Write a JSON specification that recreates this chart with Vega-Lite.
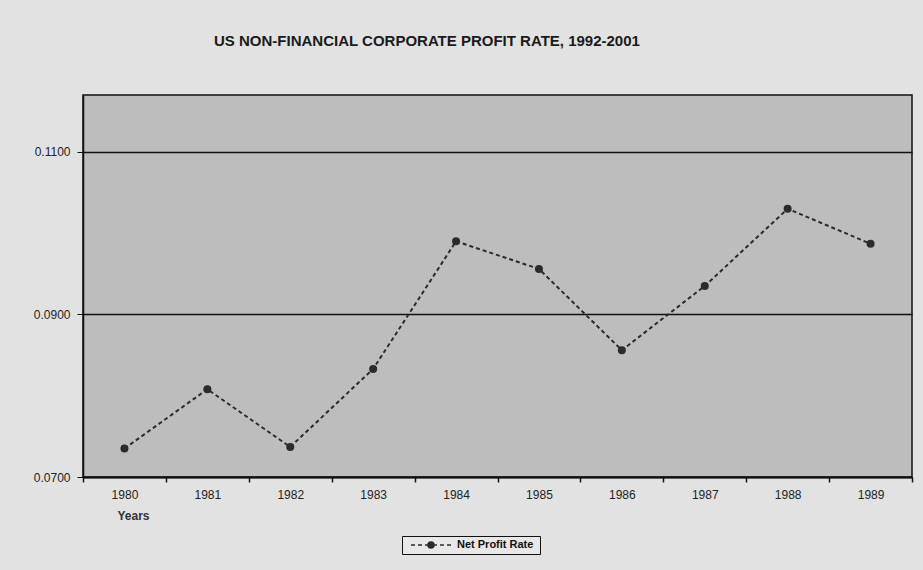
{
  "$schema": "https://vega.github.io/schema/vega-lite/v6.json",
  "width": 829,
  "height": 382,
  "autosize": {"type": "none"},
  "padding": {"left": 83, "top": 95, "right": 11, "bottom": 93},
  "background": "#e2e2e2",
  "title": {
    "text": "US NON-FINANCIAL CORPORATE PROFIT RATE, 1992-2001",
    "anchor": "start",
    "frame": "group",
    "dx": 131,
    "offset": 31,
    "baseline": "bottom",
    "font": "Liberation Sans",
    "fontSize": 15,
    "fontWeight": "bold",
    "color": "#1a1a1a"
  },
  "data": {
    "values": [
      {"year": "1980", "rate": 0.0735, "series": "Net Profit  Rate"},
      {"year": "1981", "rate": 0.0808, "series": "Net Profit  Rate"},
      {"year": "1982", "rate": 0.0737, "series": "Net Profit  Rate"},
      {"year": "1983", "rate": 0.0833, "series": "Net Profit  Rate"},
      {"year": "1984", "rate": 0.0990, "series": "Net Profit  Rate"},
      {"year": "1985", "rate": 0.0956, "series": "Net Profit  Rate"},
      {"year": "1986", "rate": 0.0856, "series": "Net Profit  Rate"},
      {"year": "1987", "rate": 0.0935, "series": "Net Profit  Rate"},
      {"year": "1988", "rate": 0.1030, "series": "Net Profit  Rate"},
      {"year": "1989", "rate": 0.0987, "series": "Net Profit  Rate"}
    ]
  },
  "encoding": {
    "x": {
      "field": "year",
      "type": "ordinal",
      "bandPosition": 0.5,
      "scale": {"type": "band", "paddingInner": 0, "paddingOuter": 0},
      "axis": {
        "tickBand": "extent",
        "tickSize": 5,
        "tickColor": "#111",
        "tickWidth": 1.5,
        "domainColor": "#111",
        "domainWidth": 2,
        "labelAngle": 0,
        "labelPadding": 7,
        "labelFont": "Liberation Sans",
        "labelFontSize": 12,
        "labelColor": "#222",
        "grid": false,
        "title": "Years",
        "titleX": 34,
        "titleY": 42,
        "titleAlign": "left",
        "titleBaseline": "alphabetic",
        "titleFont": "Liberation Sans",
        "titleFontSize": 12,
        "titleFontWeight": "bold",
        "titleColor": "#333"
      }
    },
    "y": {
      "field": "rate",
      "type": "quantitative",
      "scale": {"domain": [0.07, 0.117], "zero": false, "nice": false},
      "axis": {
        "values": [0.07, 0.09, 0.11],
        "format": ".4f",
        "grid": true,
        "gridColor": "#111",
        "gridWidth": 1.5,
        "gridOpacity": 1,
        "tickSize": 6,
        "tickColor": "#111",
        "domainColor": "#111",
        "domainWidth": 1.5,
        "labelPadding": 7,
        "labelFont": "Liberation Sans",
        "labelFontSize": 12,
        "labelColor": "#222",
        "title": null
      }
    },
    "color": {
      "field": "series",
      "type": "nominal",
      "scale": {"range": ["#2b2b2b"]},
      "legend": {
        "orient": "none",
        "legendX": 319,
        "legendY": 441,
        "title": null,
        "strokeColor": "#111",
        "fillColor": "#e8e8e8",
        "padding": 3,
        "symbolType": "M0,0H0.8M1.4,0H2.2M2.8,0H3.4M4.6,0H5.2M5.8,0H6.6M7.2,0H8M3.4,0A0.6,0.6 0 1,1 4.6,0A0.6,0.6 0 1,1 3.4,0Z",
        "symbolSize": 100,
        "symbolStrokeWidth": 1.5,
        "symbolFillColor": "#2b2b2b",
        "symbolStrokeColor": "#2b2b2b",
        "labelOffset": 40,
        "labelFont": "Liberation Sans",
        "labelFontSize": 11,
        "labelFontWeight": "bold",
        "labelColor": "#111"
      }
    }
  },
  "layer": [
    {"mark": {"type": "line", "strokeDash": [4, 3], "strokeWidth": 2}},
    {"mark": {"type": "point", "filled": true, "size": 64, "opacity": 1}}
  ],
  "config": {
    "view": {"fill": "#bdbdbd", "stroke": "#111", "strokeWidth": 1.5}
  }
}
